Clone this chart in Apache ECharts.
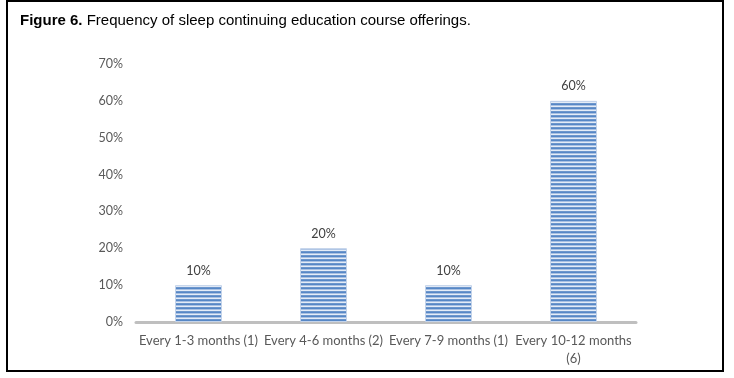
<!DOCTYPE html>
<html>
<head>
<meta charset="utf-8">
<script src="https://cdn.jsdelivr.net/npm/echarts@6/dist/echarts.min.js"></script>
<style>
html, body { margin: 0; padding: 0; background: #fff; }
#main { width: 734px; height: 378px; }
</style>
</head>
<body>
<div id="main"></div>
<script>
var categories = ['Every 1-3 months (1)', 'Every 4-6 months (2)', 'Every 7-9 months (1)', 'Every 10-12 months\n(6)'];
var percents = [10, 20, 10, 60];

// striped fill like the original bars
var stripe = document.createElement('canvas');
stripe.width = 4;
stripe.height = 4;
var ctx = stripe.getContext('2d');
ctx.fillStyle = '#e4ecf7';
ctx.fillRect(0, 0, 4, 4);
ctx.fillStyle = '#5687c6';
ctx.fillRect(0, 0, 4, 1);
ctx.fillStyle = '#a9c1e3';
ctx.fillRect(0, 1, 4, 1);
ctx.fillStyle = '#6d96cc';
ctx.fillRect(0, 3, 4, 1);

var dom = document.getElementById('main');
var myChart = echarts.init(dom);

var option = {
    animation: false,
    title: {
        text: '{b|Figure 6.} Frequency of sleep continuing education course offerings.',
        left: 15,
        top: 8,
        textStyle: {
            fontFamily: 'Liberation Sans',
            fontSize: 15,
            fontWeight: 'normal',
            color: '#000',
            rich: {
                b: { fontFamily: 'Liberation Sans', fontSize: 15, fontWeight: 'bold', color: '#000' }
            }
        }
    },
    graphic: [{
        type: 'rect',
        shape: { x: 7, y: 1, width: 716, height: 370 },
        style: { fill: 'none', stroke: '#000', lineWidth: 2 },
        silent: true
    }],
    grid: { left: 136, right: 98, top: 64, bottom: 56 },
    xAxis: {
        type: 'category',
        data: categories,
        axisLine: { lineStyle: { color: '#bfbfbf', width: 3 } },
        axisTick: { show: false },
        axisLabel: {
            interval: 0,
            margin: 10,
            fontFamily: 'Lato',
            fontSize: 13,
            color: '#595959',
            lineHeight: 18
        }
    },
    yAxis: {
        type: 'value',
        min: 0,
        max: 70,
        interval: 10,
        splitLine: { show: false },
        axisLine: { show: false },
        axisTick: { show: false },
        axisLabel: {
            formatter: '{value}%',
            margin: 13,
            fontFamily: 'Lato',
            fontSize: 12.5,
            color: '#595959'
        }
    },
    series: [{
        type: 'bar',
        data: percents,
        barWidth: 47,
        itemStyle: {
            color: { image: stripe, repeat: 'repeat' },
            borderColor: '#c3d3ea',
            borderWidth: 1
        },
        label: {
            show: true,
            position: 'top',
            distance: 8,
            formatter: '{c}%',
            fontFamily: 'Lato',
            fontSize: 12.5,
            color: '#404040'
        }
    }]
};

if (option && typeof option === 'object') {
    myChart.setOption(option, true);
}
</script>
</body>
</html>
